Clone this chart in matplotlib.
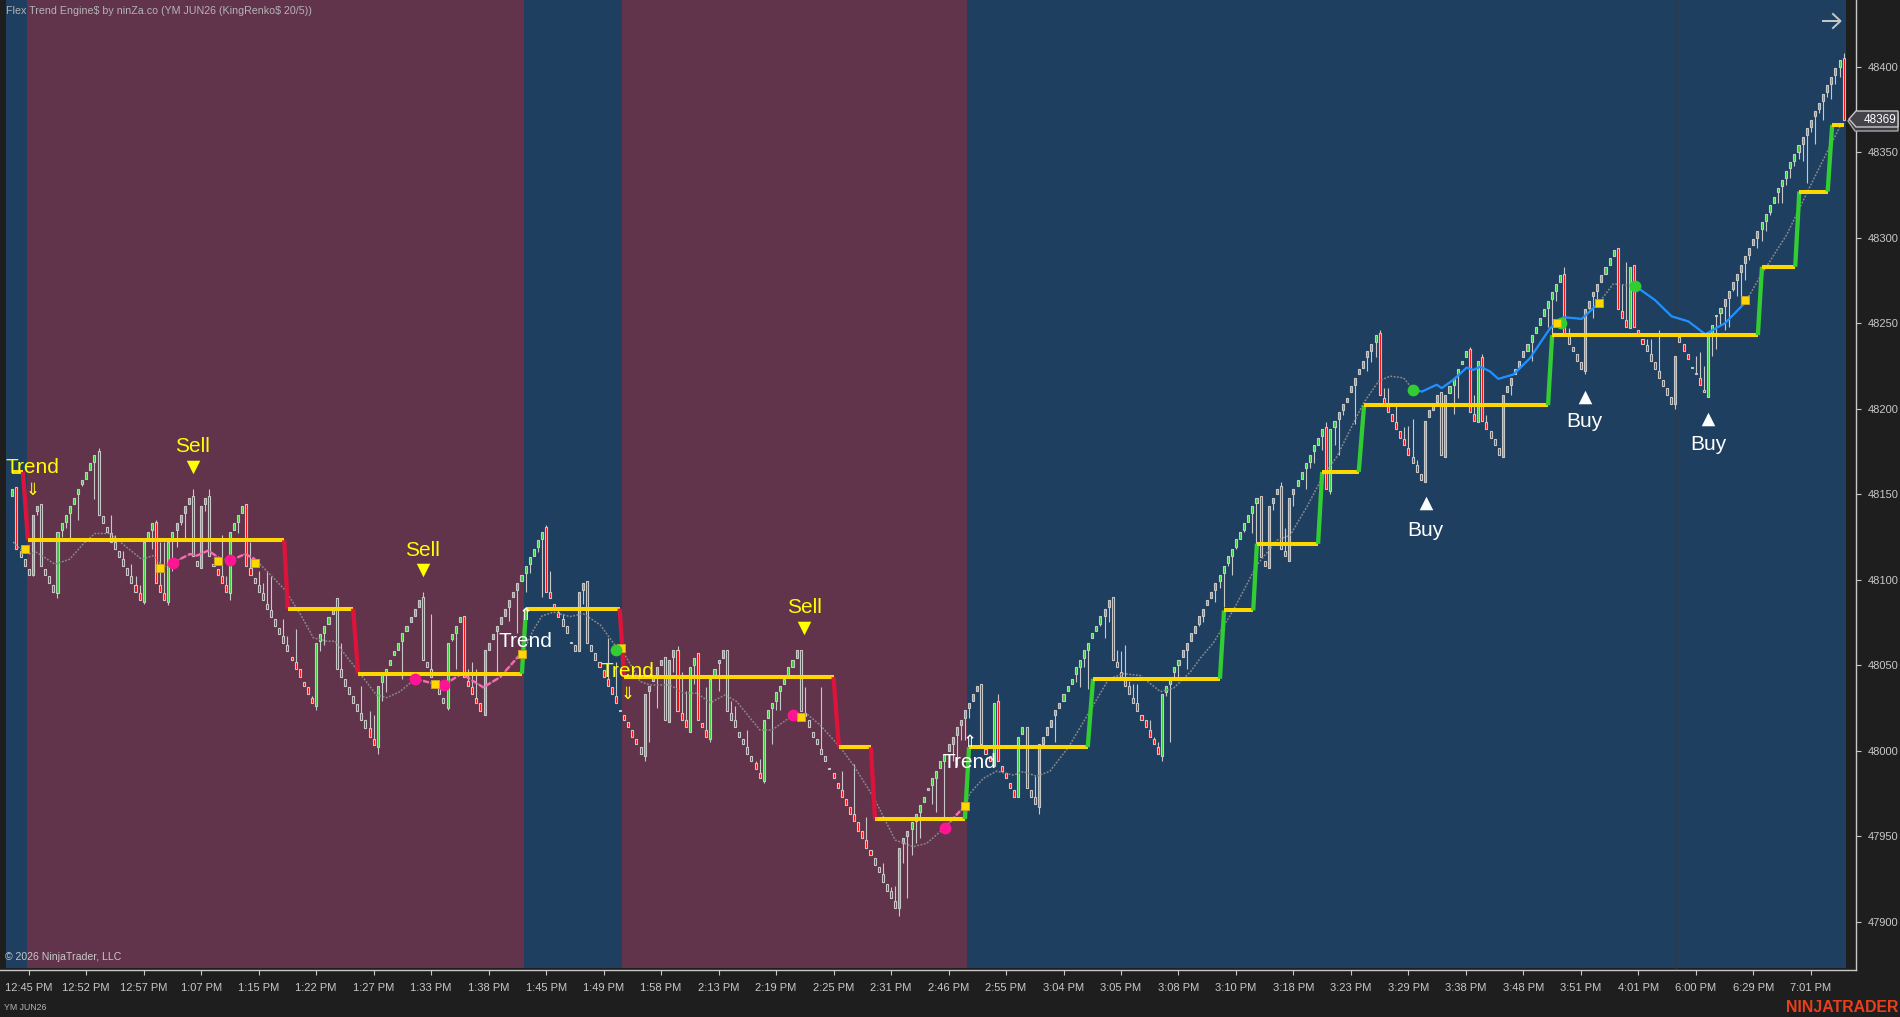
import numpy as np
import matplotlib
matplotlib.use('Agg')
from matplotlib import pyplot as plt
from matplotlib.patches import Polygon

plt.rcParams['font.family'] = ['Liberation Sans', 'DejaVu Sans']

# renko bars
bar_open = [
    48149,48154,48117,48112,48106,48103,48140,48144,48106,48102, 48097,48092,48129,48134,48139,48144,48150,48156,48159,48164,
    48169,48175,48137,48131,48127,48122,48117,48112,48107,48102, 48097,48092,48087,48124,48129,48134,48097,48092,48087,48124,
    48129,48134,48139,48144,48149,48111,48107,48144,48149,48109, 48106,48102,48097,48092,48129,48134,48139,48144,48107,48101,
    48097,48092,48086,48082,48077,48072,48067,48062,48055,48052, 48048,48040,48037,48031,48026,48064,48069,48074,48080,48089,
    48048,48042,48037,48032,48027,48022,48018,48013,48007,48002, 48040,48044,48050,48056,48059,48064,48070,48075,48079,48084,
    48090,48052,48048,48041,48037,48031,48025,48065,48069,48075, 48079,48041,48037,48031,48028,48021,48059,48065,48070,48074,
    48079,48084,48090,48094,48099,48104,48109,48114,48119,48124, 48131,48093,48086,48081,48077,48073,48063,48062,48058,48094,
    48099,48062,48057,48052,48047,48042,48037,48032,48023,48021, 48017,48012,48007,48002,47997,48035,48041,48044,48050,48055,
    48017,48055,48059,48022,48018,48011,48050,48057,48016,48012, 48007,48044,48051,48054,48059,48022,48018,48011,48007,48002,
    47997,47993,47987,47982,48019,48025,48029,48035,48039,48044, 48049,48054,48059,48022,48018,48011,48007,48001,47997,47990,
    47987,47981,47977,47972,47967,47963,47958,47953,47948,47942, 47937,47932,47928,47922,47918,47912,47908,47946,47950,47954,
    47959,47964,47970,47977,47980,47984,47990,47994,48000,48004, 48009,48015,48019,48025,48029,48035,48039,48001,47997,47991,
    48029,47991,47987,47981,47977,47973,48010,48014,47977,47973, 47967,48004,48009,48014,48021,48025,48029,48035,48039,48045,
    48049,48054,48059,48066,48070,48074,48079,48084,48090,48052, 48046,48042,48038,48031,48028,48021,48018,48012,48007,48002,
    47997,48034,48039,48046,48050,48055,48059,48064,48069,48074, 48079,48085,48089,48094,48099,48104,48110,48114,48119,48124,
    48129,48134,48139,48145,48149,48111,48107,48145,48150,48155, 48117,48111,48150,48155,48159,48165,48169,48175,48179,48184,
    48189,48152,48189,48194,48199,48204,48210,48214,48220,48224, 48230,48234,48239,48244,48206,48202,48197,48192,48187,48182,
    48177,48172,48167,48162,48157,48195,48199,48204,48210,48172, 48209,48214,48220,48226,48230,48235,48197,48192,48230,48192,
    48187,48182,48177,48172,48210,48214,48220,48224,48230,48234, 48239,48244,48249,48254,48259,48264,48269,48274,48279,48243,
    48236,48232,48227,48222,48259,48266,48269,48274,48279,48284, 48289,48294,48257,48252,48247,48284,48246,48241,48237,48232,
    48227,48222,48217,48212,48207,48203,48242,48238,48232,48224, 48221,48218,48211,48207,48244,48254,48256,48260,48265,48270,
    48275,48280,48285,48290,48296,48300,48305,48310,48315,48320, 48327,48330,48335,48341,48345,48350,48355,48360,48365,48371,
    48375,48380,48385,48390,48395,48400,48405,
]
bar_close = [
    48153,48118,48113,48108,48103,48138,48143,48108,48103,48098, 48093,48128,48133,48138,48143,48148,48153,48158,48163,48168,
    48173,48138,48133,48128,48122,48118,48113,48108,48103,48098, 48093,48088,48122,48128,48133,48098,48093,48088,48122,48128,
    48133,48138,48143,48148,48114,48108,48143,48148,48114,48108, 48103,48098,48093,48128,48133,48138,48143,48108,48103,48098,
    48093,48088,48083,48078,48073,48068,48063,48058,48053,48048, 48043,48038,48033,48028,48063,48068,48073,48078,48082,48048,
    48043,48038,48033,48028,48023,48018,48013,48008,48003,48038, 48044,48048,48053,48058,48063,48069,48073,48078,48083,48088,
    48053,48049,48043,48038,48033,48028,48063,48068,48073,48078, 48043,48038,48033,48028,48023,48059,48063,48068,48073,48078,
    48083,48088,48093,48098,48103,48108,48113,48118,48123,48128, 48093,48089,48083,48078,48073,48069,48063,48058,48093,48098,
    48063,48058,48053,48049,48043,48038,48033,48028,48023,48018, 48014,48008,48004,47998,48033,48038,48043,48049,48053,48018,
    48053,48059,48023,48018,48014,48049,48054,48018,48014,48008, 48042,48048,48053,48059,48023,48018,48014,48008,48004,47998,
    47994,47989,47984,48018,48024,48028,48034,48038,48042,48049, 48053,48059,48023,48020,48014,48008,48004,47998,47994,47989,
    47984,47978,47973,47968,47963,47959,47953,47949,47943,47939, 47933,47929,47923,47918,47914,47908,47943,47949,47953,47958,
    47963,47968,47973,47978,47984,47988,47994,47998,48004,48008, 48014,48018,48024,48028,48033,48038,48004,47998,47994,48028,
    47994,47988,47984,47978,47973,48008,48014,47978,47973,47969, 48004,48008,48014,48018,48024,48028,48033,48038,48042,48049,
    48053,48059,48063,48069,48073,48079,48083,48088,48053,48049, 48043,48038,48033,48028,48023,48018,48014,48008,48004,47998,
    48033,48038,48043,48049,48053,48059,48063,48069,48073,48079, 48083,48088,48093,48098,48103,48108,48114,48118,48124,48128,
    48133,48138,48143,48148,48113,48108,48143,48148,48153,48118, 48114,48148,48153,48158,48163,48168,48173,48179,48183,48188,
    48153,48188,48193,48198,48203,48206,48213,48218,48223,48228, 48234,48238,48243,48208,48203,48198,48193,48188,48183,48179,
    48173,48168,48163,48158,48193,48199,48203,48208,48173,48208, 48213,48218,48223,48228,48234,48198,48193,48228,48193,48188,
    48183,48179,48173,48208,48213,48218,48223,48228,48234,48238, 48243,48248,48253,48258,48263,48268,48273,48278,48243,48238,
    48234,48228,48223,48258,48263,48268,48273,48278,48283,48288, 48293,48258,48253,48248,48283,48248,48243,48238,48234,48228,
    48223,48218,48213,48208,48203,48231,48239,48234,48229,48224, 48220,48214,48210,48243,48249,48254,48259,48264,48269,48274,
    48279,48284,48289,48294,48299,48304,48309,48314,48319,48324, 48329,48334,48339,48344,48349,48354,48359,48364,48369,48374,
    48379,48384,48389,48394,48399,48404,48369,
]
# bars with a wick sticking out of the body: bar number -> price
wick_low = {
    5:48102,6:48138,11:48089,12:48125,13:48130,14:48124,16:48135,17:48155,20:48147,32:48086,34:48118,38:48085,39:48105,
    40:48119,41:48132,42:48124,47:48140,53:48088,55:48127,74:48024,75:48058,76:48062,89:47998,90:48029,91:48034,95:48042,
    106:48024,107:48064,108:48048,118:48046,121:48076,123:48069,125:48093,126:48104,128:48116,129:48090,139:48086,
    154:47994,155:48005,157:48025,161:48046,166:48039,170:48005,172:48035,183:47981,185:48004,186:48024,187:48024,
    216:47903,217:47934,218:47914,219:47939,220:47946,221:47949,224:47969,225:47964,227:47961,229:47994,230:47991,
    231:48006,232:48006,233:48019,250:47963,254:48005,259:48040,260:48037,261:48049,262:48036,265:48073,266:48066,
    267:48075,280:47994,281:48032,282:48005,283:48043,284:48043,286:48048,289:48073,290:48075,293:48087,294:48095,
    295:48084,296:48108,297:48103,298:48118,300:48128,302:48127,303:48121,307:48141,312:48143,315:48153,316:48165,
    317:48168,319:48176,321:48150,322:48179,323:48173,324:48196,327:48191,330:48222,331:48227,332:48230,351:48197,
    352:48206,365:48208,370:48228,374:48248,375:48244,376:48263,383:48220,384:48258,385:48253,386:48260,405:48200,
    414:48231,415:48235,416:48249,417:48246,418:48248,419:48269,420:48266,421:48260,422:48275,423:48287,425:48294,
    426:48298,427:48304,428:48313,430:48320,431:48320,432:48331,433:48335,434:48342,435:48346,436:48345,437:48332,
    438:48362,439:48355,440:48373,441:48369,442:48382,443:48381,444:48390,445:48394,
}
wick_high = {
    21:48177,24:48138,25:48126,27:48117,29:48109,30:48102,31:48097,35:48135,36:48122,37:48122,44:48153,48:48153,51:48126,
    52:48102,58:48122,60:48105,61:48098,62:48105,63:48102,66:48077,67:48067,69:48071,73:48032,80:48063,85:48038,87:48023,
    88:48021,100:48093,102:48080,111:48048,112:48052,113:48048,130:48132,131:48105,133:48083,134:48080,145:48066,147:48052,
    162:48061,163:48046,164:48035,169:48037,175:48029,176:48026,179:48012,181:47994,182:47995,193:48037,197:48037,
    202:47988,205:47992,208:47961,212:47934,214:47920,215:47921,240:48033,249:47985,269:48059,270:48058,271:48062,
    272:48041,273:48039,274:48039,277:48018,278:48008,279:48005,309:48157,310:48130,320:48192,333:48246,334:48212,
    335:48212,337:48202,339:48189,340:48190,341:48194,342:48170,355:48236,356:48208,358:48232,359:48196,378:48283,
    379:48247,392:48273,393:48286,398:48241,399:48241,401:48246,410:48231,411:48233,412:48225,446:48408,
}

# trend stop line
step_x = [-0.1,2.6,3.8,66.2,67.1,83,84.2,124.1,125.1,147.9,149,200,201.3,209.1,210.1,232,233,261.9,263.2,294.1,295.1,
          302.2,303.1,318,319,327.9,329.2,374,375,425.1,426.1,434.2,435.2,442.1,443.2,446]
step_y = [48163,48163,48123,48123,48083,48083,48045,48045,48083,48083,48043,48043,48002,48002,47960,47960,48002,48002,
          48042,48042,48082,48082,48121,48121,48163,48163,48202,48202,48243,48243,48283,48283,48327,48327,48366,48366]

# moving average
ma_x = [0.2,1.9,3.9,5.9,10.4,14,17.3,20.1,23.8,27.8,31.5,34.3,36.8,39.2,43.3,44.9,47.7,50.2,53,56.7,59.1,62.8,66.4,70.1,
        73.3,76.6,78.6,81.4,84.7,88.7,91.2,94.4,98.1,102.9,105.1,109.4,114.7,118.8,123.2,124.2,126.9,129,131.8,135.8,139.1,
        143.2,147,149.2,152.9,155.3,160.2,163.4,166.7,170,173.6,176.4,182.1,185,190.2,193.5,196.7,201.6,204.8,209.7,215,
        219.4,222.7,227.1,232,233.2,236.5,239.7,243.8,246.2,249.5,252.7,257.2,261.6,267,270.6,274.7,279.6,282.8,286.9,
        289.3,292.5,297.4,303.1,308,311.2,315.3,319.3,322.6,326.6,329,332.7,335.5,338.8,341.2,343.3,346.9,348.1,351,354.2,
        355.8,357.5,359.9,361.9,365.6,369.6,374.5,377.8,382.2,386.3,389.9,395.2,400,404.1,408.2,412.3,417.1,422,425.6,
        432.1,437,440.6,445.5]
ma_y = [48122,48118,48115,48116,48109,48112,48121,48127,48127,48119,48112,48114,48107.5,48110,48115,48114,48117,48113,48111,
        48115,48112,48103,48094,48080,48066,48064,48064,48055,48045,48032.5,48031,48034.5,48042,48039,48038.4,48045,48037,
        48043,48055,48056.6,48070.6,48078.8,48081,48078.4,48080,48073.5,48060.9,48056,48040.4,48038.4,48038.4,48033.6,
        48033.6,48028,48032.6,48028.7,48012,48012,48020.9,48021.5,48015,48002,47991.6,47973,47947.7,47943.8,47945.8,47955,
        47967.8,47975,47983.8,47988,47985.7,47987.7,47985,47988,48002,48019.8,48041.9,48045,48043.9,48034.5,48036.5,48046,
        48054,48063,48082.3,48108.6,48123,48126,48142.7,48161,48172,48191.5,48203,48216,48219,48218,48211,48210,48214,48212,
        48217,48224,48222.6,48224.6,48221.7,48217.4,48220,48229.5,48247,48253.5,48252.5,48261.6,48273,48271.8,48263.6,48254,
        48251,48243.5,48250,48262,48277,48301.6,48326,48343.5,48366.9]
pink_spans = [(39.2,50.2),(53,59.1),(98.1,102.9),(105.1,124.2),(190.2,192.1),(227.1,232)]
blue_spans = [(341.2,376.3),(377.2,386.3),(395.2,422)]

pink_dots = [(39.2,48110),(53,48111.5),(98.1,48042),(105.1,48038.4),(190.2,48020.9),(227.1,47955)]
green_dots = [(341.2,48211),(377.2,48250.3),(395.2,48272)]
green_dot_top = (147,48059)
squares = [(3.1,48118),(36,48107),(50.2,48111),(59.1,48109.5),(102.9,48038.8),(124.2,48056.4),(148.2,48060.3),
           (192.1,48019.5),(232,47967.8),(376.3,48250),(386.3,48261.6),(422,48263.6)]

sell_signals = [(43.9,48178,48166),(99.9,48117.3,48105.9),(192.9,48083.6,48071.9)]
buy_signals = [(344.2,48129,48145),(382.9,48192.6,48207),(413,48179,48194)]
trend_signals = [(4.8,48165.7,48152.5,'#FFFF00','\u21d3'),(124.9,48064,48079.4,'white','\u21d1'),
                 (149.8,48046.2,48033.3,'#FFFF00','\u21d3'),(233,47993,48005.3,'white','\u21d1')]

time_labels = ['12:45 PM','12:52 PM','12:57 PM','1:07 PM','1:15 PM','1:22 PM','1:27 PM','1:33 PM','1:38 PM','1:45 PM',
               '1:49 PM','1:58 PM','2:13 PM','2:19 PM','2:25 PM','2:31 PM','2:46 PM','2:55 PM','3:04 PM','3:05 PM',
               '3:08 PM','3:10 PM','3:18 PM','3:23 PM','3:29 PM','3:38 PM','3:48 PM','3:51 PM','4:01 PM','6:00 PM',
               '6:29 PM','7:01 PM']
price_ticks = [47900,47950,48000,48050,48100,48150,48200,48250,48300,48350,48400]

# red/blue background zones, in bar numbers
zones = [(-1.5,3.58,'#1F3F60'),(3.58,124.6,'#61344C'),(124.6,148.5,'#1F3F60'),(148.5,232.5,'#61344C'),(232.5,446.6,'#1F3F60')]

DARK = '#1E1E1E'
AXIS = '#C8C8C8'
W, H = 1900, 1017

fig = plt.figure(figsize=(W/100, H/100), dpi=100, facecolor=DARK)
ax = fig.add_axes([0, (H-970)/H, 1856/W, 970/H], facecolor=DARK)
ax.set_xlim(-3.0, 449.0)
ax.set_ylim(47871.7, 48439.0)

for x0, x1, col in zones:
    ax.axvspan(x0, x1, ymin=2/970, color=col, lw=0, zorder=0)
ax.axvline(405.1, ymin=2/970, color='#2B3A46', lw=1, zorder=0.5)

# bars
xs = np.arange(len(bar_open))
opens = np.array(bar_open)
closes = np.array(bar_close)
body_col = ['#32CD32' if c >= o else '#FF0000' for o, c in zip(opens, closes)]
for i, p in wick_low.items():
    ax.plot([i, i], [p, min(opens[i], closes[i])], color=AXIS, lw=0.8, zorder=1, solid_capstyle='butt')
for i, p in wick_high.items():
    ax.plot([i, i], [p, max(opens[i], closes[i])], color=AXIS, lw=0.8, zorder=1, solid_capstyle='butt')
heights = np.maximum(np.abs(closes-opens), 0.6)
ax.bar(xs, heights, bottom=np.minimum(opens, closes), width=0.5, color=body_col, edgecolor=AXIS, lw=0.8, zorder=2)

# moving average, gray with coloured parts
ma_x = np.array(ma_x)
ma_y = np.array(ma_y)
ax.plot(ma_x, ma_y, color='#8A8A8A', lw=1.1, ls=(0, (1.2, 1)), zorder=3)
for spans, col, style, lw in [(pink_spans, '#FF69B4', (0, (2.5, 1)), 1.7), (blue_spans, '#1E90FF', '-', 1.6)]:
    for a, b in spans:
        m = (ma_x > a) & (ma_x < b)
        sx = np.r_[a, ma_x[m], b]
        sy = np.interp(sx, ma_x, ma_y)
        ax.plot(sx, sy, color=col, lw=lw, ls=style, zorder=3.1)

# stop line: flats are yellow, the steps between them red or green
for k in range(len(step_x)-1):
    x0, x1, y0, y1 = step_x[k], step_x[k+1], step_y[k], step_y[k+1]
    if y0 == y1:
        ax.plot([x0, x1], [y0, y1], color='#FFD700', lw=2.9, zorder=4, solid_capstyle='butt')
    else:
        ax.plot([x0, x1], [y0, y1], color='#32CD32' if y1 > y0 else '#DC143C', lw=3.1, zorder=4, solid_capstyle='butt')

ax.scatter(*zip(*pink_dots), s=72, color='#FF1493', lw=0, zorder=5)
ax.scatter(*zip(*green_dots), s=72, color='#32CD32', lw=0, zorder=5)
ax.scatter(*zip(*squares), s=36, marker='s', color='#FFD700', edgecolor='#C9A227', lw=0.7, zorder=6)
ax.scatter(*green_dot_top, s=72, color='#32CD32', lw=0, zorder=6.5)

for x, ty, my in sell_signals:
    ax.text(x, ty, 'Sell', color='#FFFF00', fontsize=15, ha='center', va='center', zorder=7)
    ax.scatter([x], [my], marker='v', s=95, color='#FFFF00', lw=0, zorder=7)
for x, ty, my in buy_signals:
    ax.text(x, ty, 'Buy', color='white', fontsize=15, ha='center', va='center', zorder=7)
    ax.scatter([x], [my], marker='^', s=95, color='white', lw=0, zorder=7)
for x, ty, ay, col, arrow in trend_signals:
    ax.text(x, ty, 'Trend', color=col, fontsize=15, ha='center', va='center', zorder=7)
    ax.text(x, ay, arrow, color=col, fontsize=12, ha='center', va='center', family='DejaVu Sans', zorder=7)

# axes
for side in ['top', 'left']:
    ax.spines[side].set_visible(False)
for side in ['right', 'bottom']:
    ax.spines[side].set_color(AXIS)
    ax.spines[side].set_linewidth(1.0)
ax.yaxis.tick_right()
ax.set_yticks(price_ticks)
ax.set_yticklabels([str(p) for p in price_ticks])
ax.set_xticks(4 + 14*np.arange(len(time_labels)))
ax.set_xticklabels(time_labels)
ax.tick_params(axis='y', colors=AXIS, labelsize=8, length=3.6, width=0.8, pad=5)
ax.tick_params(axis='x', colors=AXIS, labelsize=8, length=3.6, width=0.8, pad=6)

# page furniture in pixel coordinates
top = fig.add_axes([0, 0, 1, 1])
top.set_xlim(0, W)
top.set_ylim(H, 0)
top.axis('off')
top.text(6, 11, r'Flex Trend Engine\$ by ninZa.co (YM JUN26 (KingRenko\$ 20/5))', color='#B4B4B4', fontsize=7.7, va='center')
top.text(5, 957, '\u00a9 2026 NinjaTrader, LLC', color='#C8C8C8', fontsize=7.6, va='center')
top.text(4, 1008, 'YM JUN26', color='#B4B4B4', fontsize=6.3, va='center')
top.text(1898, 1007, 'NINJATRADER', color='#E8401C', fontsize=11.4, fontweight='bold', ha='right', va='center')
top.plot([1823, 1840], [21, 21], color='#C8C8C8', lw=1.4)
top.plot([1833, 1840.5, 1833], [14, 21, 28], color='#C8C8C8', lw=1.4)
shadow = Polygon([(1848,121),(1855,113),(1898,113),(1898,131),(1855,131)], closed=True, fc='#3A3A40', ec='#A8A8A8', lw=1)
tag = Polygon([(1849,119),(1856,111),(1898,111),(1898,127),(1856,127)], closed=True, fc='#45434A', ec='#C8C8C8', lw=1)
top.add_patch(shadow)
top.add_patch(tag)
top.text(1864, 120, '48369', color='white', fontsize=8.5, va='center')

plt.savefig('out.png', dpi=100, facecolor=DARK)
